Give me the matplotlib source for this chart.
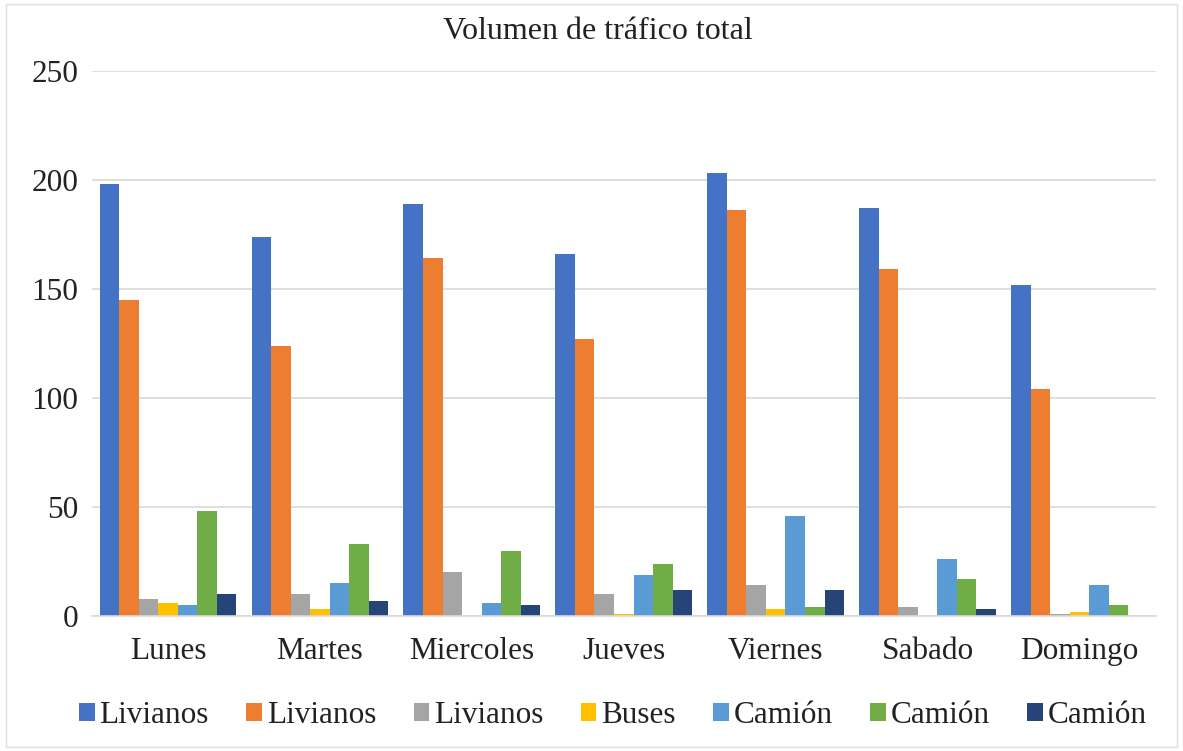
import matplotlib.pyplot as plt
import numpy as np
from matplotlib.patches import Rectangle

dias = ['Lunes', 'Martes', 'Miercoles', 'Jueves', 'Viernes', 'Sabado', 'Domingo']
series_names = ['Livianos', 'Livianos', 'Livianos', 'Buses', 'Camión', 'Camión', 'Camión']

livianos_1 = [198, 174, 189, 166, 203, 187, 152]
livianos_2 = [145, 124, 164, 127, 186, 159, 104]
livianos_3 = [8, 10, 20, 10, 14, 4, 1]
buses = [6, 3, 0, 1, 3, 0, 2]
camion_1 = [5, 15, 6, 19, 46, 26, 14]
camion_2 = [48, 33, 30, 24, 4, 17, 5]
camion_3 = [10, 7, 5, 12, 12, 3, 0]

colors = ['#4472C4', '#ED7D31', '#A5A5A5', '#FFC000', '#5B9BD5', '#70AD47', '#264478']

plt.rcParams['font.family'] = ['Liberation Serif', 'DejaVu Serif']

fig = plt.figure(figsize=(11.83, 7.51), dpi=100)
ax = fig.add_axes([0.0778, 0.1798, 0.899, 0.7257])

data = [livianos_1, livianos_2, livianos_3, buses, camion_1, camion_2, camion_3]
x = np.arange(len(dias))
group = 0.9
w = group / len(data)
for i, (vals, name, c) in enumerate(zip(data, series_names, colors)):
    ax.bar(x - group / 2 + w * (i + 0.5), vals, width=w, color=c, label=name)

ax.set_xlim(-0.5, len(dias) - 0.5)
ax.set_ylim(0, 250)
ax.set_yticks([0, 50, 100, 150, 200, 250])
ax.set_xticks(x)
ax.set_xticklabels(dias)
ax.tick_params(axis='both', length=0, labelsize=22.5, colors='#222222')
ax.tick_params(axis='x', pad=15)
ax.tick_params(axis='y', pad=10)
ax.yaxis.grid(True, color='#d9d9d9', linewidth=1.2)
ax.set_axisbelow(True)
for s in ['left', 'right', 'top']:
    ax.spines[s].set_visible(False)
ax.spines['bottom'].set_color('#d9d9d9')
ax.spines['bottom'].set_linewidth(1.2)

fig.text(0.505, 0.958, 'Volumen de tráfico total', ha='center', va='center', fontsize=23, color='#222222')

fig.legend(loc='center', bbox_to_anchor=(0.518, 0.047), ncol=7, frameon=False,
           fontsize=22.5, handlelength=0.5, handleheight=0.5, handletextpad=0.15,
           columnspacing=1.2, labelcolor='#222222')

fig.patches.append(Rectangle((0.005, 0.005), 0.99, 0.99, transform=fig.transFigure,
                             fill=False, edgecolor='#e0e0e0', linewidth=1))

fig.savefig('out.png', dpi=100)
